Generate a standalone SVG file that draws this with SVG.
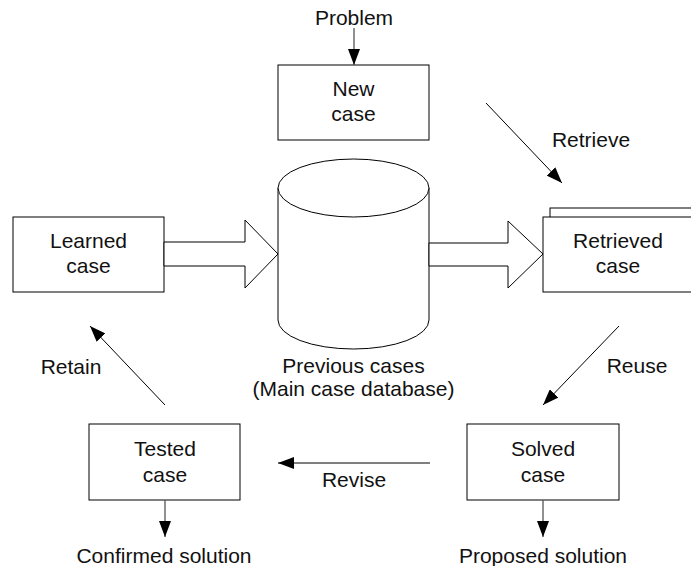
<svg xmlns="http://www.w3.org/2000/svg" width="691" height="566" viewBox="0 0 691 566">
  <style>
    .box { fill: #ffffff; stroke: #000000; stroke-width: 1; }
    .lbl { font-family: "Liberation Sans", Arial, sans-serif; font-size: 21px; fill: #111111; text-anchor: middle; }
    .line { fill: none; stroke: #000000; stroke-width: 1; }
    .vline { fill: none; stroke: #555555; stroke-width: 1.3; }
  </style>
  <defs>
    <marker id="head" markerUnits="userSpaceOnUse" markerWidth="16" markerHeight="12" refX="16" refY="6" orient="auto">
      <path d="M0,0 L16,6 L0,12 Z" fill="#000000"/>
    </marker>
  </defs>
  <rect width="691" height="566" fill="#ffffff"/>

  <!-- case base cylinder -->
  <g id="database">
    <path class="box" d="M278,188 L278,320 A75.5,29 0 0 0 429,320 L429,188"/>
    <ellipse class="box" cx="353.5" cy="188" rx="75.5" ry="29"/>
    <text class="lbl" x="353.5" y="373">Previous cases</text>
    <text class="lbl" x="353.5" y="396">(Main case database)</text>
  </g>

  <g id="new-case">
    <rect class="box" x="278" y="65" width="151" height="75"/>
    <text class="lbl" x="353.5" y="96">New</text>
    <text class="lbl" x="353.5" y="121">case</text>
  </g>

  <g id="learned-case">
    <rect class="box" x="13" y="217" width="151" height="75"/>
    <text class="lbl" x="88.5" y="248">Learned</text>
    <text class="lbl" x="88.5" y="273">case</text>
  </g>

  <g id="retrieved-case">
    <rect class="box" x="550" y="208" width="160" height="75"/>
    <rect class="box" x="543" y="217" width="160" height="75"/>
    <text class="lbl" x="618" y="248">Retrieved</text>
    <text class="lbl" x="618" y="273">case</text>
  </g>

  <g id="solved-case">
    <rect class="box" x="467" y="424" width="152" height="76"/>
    <text class="lbl" x="543" y="456">Solved</text>
    <text class="lbl" x="543" y="482">case</text>
  </g>

  <g id="tested-case">
    <rect class="box" x="89" y="424" width="151" height="76"/>
    <text class="lbl" x="165" y="456">Tested</text>
    <text class="lbl" x="165" y="482">case</text>
  </g>

  <g id="connectors">
    <!-- block arrows into and out of the case base -->
    <polygon class="box" points="164,242 245,242 245,220 278,254 245,288 245,266 164,266"/>
    <polygon class="box" points="429,243 508,243 508,221 543,254 508,288 508,266 429,266"/>

    <line class="vline" x1="354" y1="28" x2="354" y2="65" marker-end="url(#head)"/>
    <line class="line" x1="486" y1="103" x2="562" y2="183" marker-end="url(#head)"/>
    <line class="line" x1="619" y1="326" x2="543" y2="405" marker-end="url(#head)"/>
    <line class="line" x1="430" y1="463" x2="278" y2="463" marker-end="url(#head)"/>
    <line class="line" x1="165" y1="405" x2="90" y2="326" marker-end="url(#head)"/>
    <line class="vline" x1="543" y1="500" x2="543" y2="537" marker-end="url(#head)"/>
    <line class="vline" x1="165" y1="500" x2="165" y2="537" marker-end="url(#head)"/>

    <text class="lbl" x="354" y="25">Problem</text>
    <text class="lbl" x="591" y="147">Retrieve</text>
    <text class="lbl" x="637" y="373">Reuse</text>
    <text class="lbl" x="354" y="487">Revise</text>
    <text class="lbl" x="71" y="374">Retain</text>
    <text class="lbl" x="543" y="563">Proposed solution</text>
    <text class="lbl" x="164" y="563">Confirmed solution</text>
  </g>
</svg>
